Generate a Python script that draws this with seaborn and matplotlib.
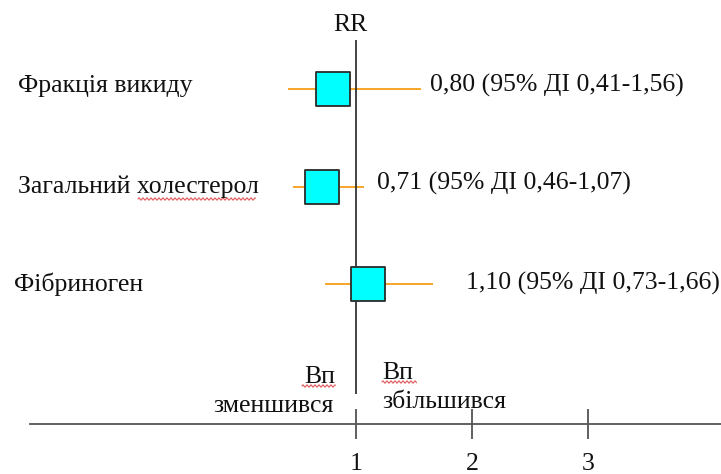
import numpy as np
import pandas as pd
import matplotlib
matplotlib.use("Agg")
import matplotlib.pyplot as plt
from matplotlib.lines import Line2D
import seaborn as sns

# Relative risk estimates with 95% confidence intervals
factors = ["Фракція викиду", "Загальний холестерол", "Фібриноген"]
rr = [0.80, 0.71, 1.10]
ci_low = [0.41, 0.46, 0.73]
ci_high = [1.56, 1.07, 1.66]
x_ticks = [1, 2, 3]
x_tick_labels = ["1", "2", "3"]

sns.set_theme(style="white")
plt.rcParams["font.family"] = ["Liberation Serif", "DejaVu Serif"]

W, H = 721, 474
FS = 18.5
fig = plt.figure(figsize=(W / 100, H / 100), dpi=100)
fig.patch.set_facecolor("white")


def px(x, y):
    """Figure fraction from pixel position measured from the top-left corner."""
    return x / W, 1 - y / H


def wavy(x0, x1, y):
    xs = np.arange(x0, x1, 0.5)
    ys = y + 1.1 * np.sin(xs * 2 * np.pi / 4.0)
    fig.add_artist(Line2D(xs / W, 1 - ys / H, color="#e0585a", lw=0.8))


ax = fig.add_axes([30 / W, (H - 424) / H, (W - 30) / W, 424 / H])
ax.set_facecolor("none")

df = pd.DataFrame({"factor": factors, "rr": rr, "lo": ci_low, "hi": ci_high,
                   "row": np.arange(len(factors))})

# confidence intervals
ax.hlines(df["row"], df["lo"], df["hi"], color="#f7a529", lw=1.4, zorder=1)
# point estimates
sns.scatterplot(data=df, x="rr", y="row", marker="s", s=600, color="#00ffff",
                edgecolor="#2a2a2a", linewidth=1.3, ax=ax, zorder=3, legend=False)

ax.set_xlim(-1.810, 4.147)
ax.set_ylim(3.436, -0.913)

# line of no effect
ax.vlines(1, -0.503, 3.128, color="#222222", lw=1.2, zorder=2)

ax.set_xlabel("")
ax.set_ylabel("")
ax.set_yticks([])
ax.set_xticks(x_ticks)
ax.set_xticklabels(x_tick_labels)
ax.tick_params(axis="x", bottom=True, direction="inout", length=22, width=1.2,
               color="#444444", pad=10, labelsize=FS, labelcolor="#111111")
for side in ["top", "left", "right"]:
    ax.spines[side].set_visible(False)
ax.spines["bottom"].set_color("#555555")
ax.spines["bottom"].set_linewidth(1.3)

fig.text(*px(350, 31), "RR", fontsize=FS, ha="center", va="baseline", color="#111111")

label_pos = [(18, 92), (18, 193), (14, 291)]
value_pos = [(430, 92), (377, 190), (466, 290)]
for i, row in df.iterrows():
    fig.text(*px(*label_pos[i]), row["factor"], fontsize=FS, ha="left",
             va="baseline", color="#111111")
    txt = f"{row['rr']:.2f} (95% ДІ {row['lo']:.2f}-{row['hi']:.2f})".replace(".", ",")
    fig.text(*px(*value_pos[i]), txt, fontsize=FS, ha="left", va="baseline",
             color="#111111")

fig.text(*px(335, 383), "Вп", fontsize=FS, ha="right", va="baseline", color="#111111")
fig.text(*px(334, 412), "зменшився", fontsize=FS, ha="right", va="baseline", color="#111111")
fig.text(*px(382, 379), "Вп", fontsize=FS, ha="left", va="baseline", color="#111111")
fig.text(*px(382, 408), "збільшився", fontsize=FS, ha="left", va="baseline", color="#111111")

wavy(138, 256, 199)
wavy(302, 336, 386)
wavy(382, 417, 382)

fig.savefig("out.png", dpi=100)
